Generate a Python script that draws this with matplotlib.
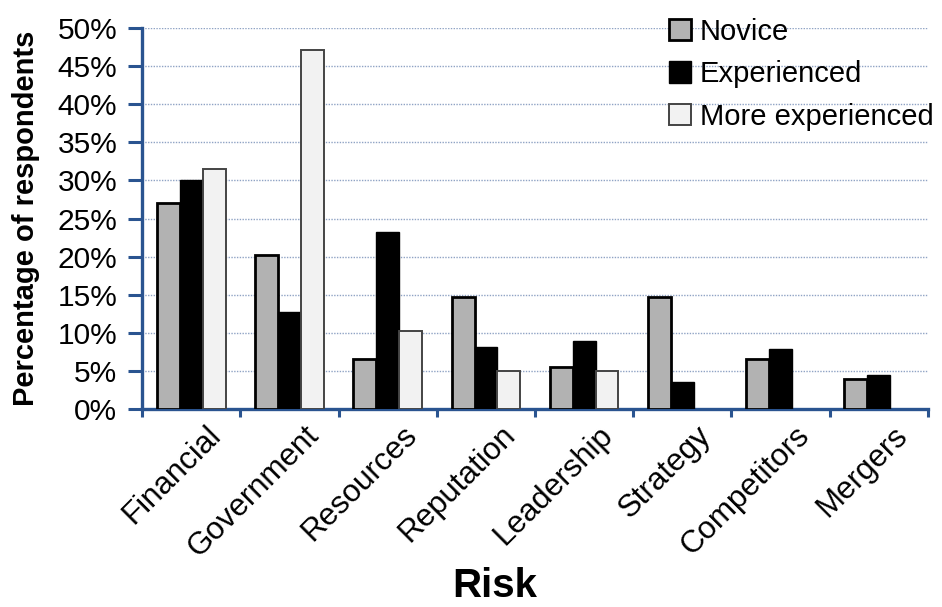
import numpy as np
import matplotlib.pyplot as plt
import matplotlib.transforms as mtransforms
from matplotlib.ticker import MultipleLocator, FuncFormatter

plt.rcParams['font.family'] = ['Liberation Sans', 'DejaVu Sans']

categories = ['Financial', 'Government', 'Resources', 'Reputation',
              'Leadership', 'Strategy', 'Competitors', 'Mergers']
novice = [27.0, 20.2, 6.6, 14.7, 5.5, 14.7, 6.6, 3.9]
experienced = [30.0, 12.8, 23.2, 8.2, 9.0, 3.5, 7.9, 4.5]
more_experienced = [31.5, 47.1, 10.3, 5.0, 5.0, 0, 0, 0]

axis_blue = '#2A5490'

fig = plt.figure(figsize=(9.42, 6.07), dpi=100)
ax = fig.add_axes([0.151, 0.326, 0.834, 0.628])

x = np.arange(len(categories))
w = 0.233


def shown(vals):
    # zero values have no bar in the original chart
    v = np.array(vals, dtype=float)
    v[v == 0] = np.nan
    return v


ax.bar(x - w, shown(novice), w, color='#B2B2B2', edgecolor='black', linewidth=2.0,
       label='Novice', zorder=3)
ax.bar(x, shown(experienced), w, color='black', edgecolor='black', linewidth=1.0,
       label='Experienced', zorder=3)
ax.bar(x + w, shown(more_experienced), w, color='#F2F2F2', edgecolor='#444444',
       linewidth=1.4, label='More experienced', zorder=3)

ax.set_xlim(-0.5, len(categories) - 0.5)
ax.set_ylim(0, 50)
ax.yaxis.set_major_locator(MultipleLocator(5))
ax.yaxis.set_major_formatter(FuncFormatter(lambda v, p: '{:.0f}%'.format(v)))
ax.grid(axis='y', linestyle=(0, (1, 1)), color='#8FA3C4', linewidth=1.0, zorder=0)

for s in ['top', 'right']:
    ax.spines[s].set_visible(False)
for s in ['left', 'bottom']:
    ax.spines[s].set_color(axis_blue)
    ax.spines[s].set_linewidth(2.4)

ax.tick_params(axis='y', direction='out', length=10, width=2.2, color=axis_blue,
               labelsize=21.5, pad=8)
ax.set_xticks(x)
ax.set_xticklabels(categories, rotation=45, ha='right', rotation_mode='anchor',
                   fontsize=22.5)
ax.tick_params(axis='x', which='major', length=0, pad=8)
shift = mtransforms.ScaledTranslation(0.14, 0, fig.dpi_scale_trans)
for lab in ax.get_xticklabels():
    lab.set_transform(lab.get_transform() + shift)
ax.set_xticks(np.arange(-0.5, len(categories)), minor=True)
ax.tick_params(axis='x', which='minor', direction='out', length=6, width=2.2,
               color=axis_blue)

ax.set_ylabel('Percentage of respondents', fontsize=21, fontweight='bold')
ax.yaxis.set_label_coords(-0.13, 0.5)
fig.text(0.525, 0.016, 'Risk', fontsize=29, fontweight='bold', ha='center',
         va='baseline')

fig.legend(loc='upper left', bbox_to_anchor=(0.698, 0.99), frameon=False,
           fontsize=21, handlelength=0.75, handleheight=0.75, handletextpad=0.3,
           labelspacing=0.5, borderaxespad=0)

fig.savefig('out.png', dpi=100)
